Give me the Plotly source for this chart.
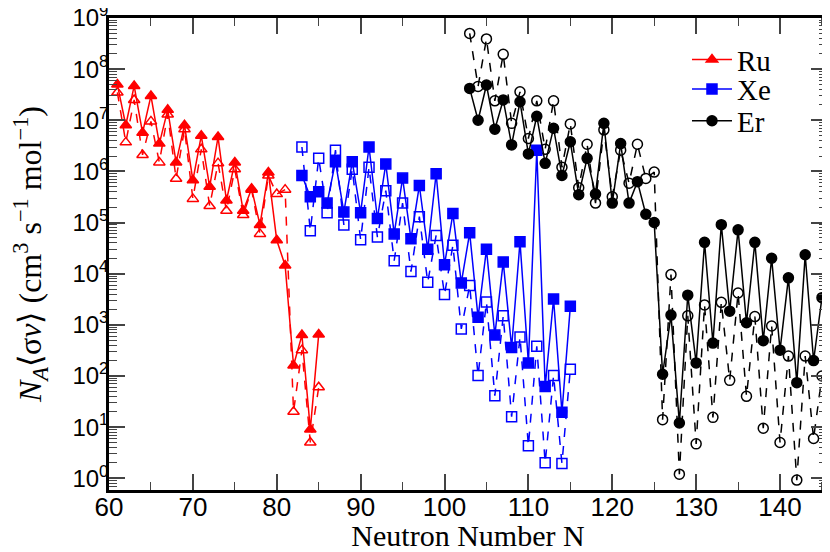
import plotly.graph_objects as go

# ---- data ----
ru_n = list(range(61, 86))
ru_solid = [5e7, 8e6, 4.7e7, 5.7e6, 3e7, 3.5e6, 1.6e7, 1.5e6, 8e6, 6.7e5, 5e6, 5e5, 4.7e6, 2.7e5,
            1.5e6, 1.7e5, 4.6e5, 9e4, 9.5e5, 4.5e4, 1.45e4, 160, 630, 9, 650]
ru_dash = [3.5e7, 3.7e6, 2.5e7, 2.1e6, 9.5e6, 1.5e6, 1.3e7, 7.2e5, 6.7e6, 2.9e5, 2.7e6, 2.1e5, 1.45e6, 1.7e5,
           1.1e6, 1.4e5, 4.4e5, 6e4, 8.3e5, 3.6e5, 4.4e5, 20, 320, 5, 60]

xe_n = list(range(83, 116))
xe_solid = [8.3e5, 3.2e5, 4e5, 2.4e5, 1.55e6, 1.6e5, 1.55e6, 1.56e5, 3e6, 1.2e5, 1.4e6, 6e4, 7.4e5, 4.8e4,
            5.3e5, 3e4, 9e5, 1.5e4, 1.5e5, 6.6e3, 6.3e4, 1.4e3, 3e4, 630, 1.7e4, 360, 4.2e4, 180,
            2.6e6, 62, 3.2e3, 19.5, 2.3e3]
xe_dash = [3e6, 6.9e4, 1.8e6, 1.55e5, 2.6e6, 9e4, 1.1e6, 4.6e4, 1.2e6, 5.2e4, 4.2e5, 1.8e4, 2.4e5, 1.1e4,
           1.3e5, 6.8e3, 5.6e4, 3.9e3, 3.6e4, 830, 5.9e3, 102, 2.8e3, 41, 1.5e3, 16, 580, 4.3,
           380, 2, 102, 1.95, 135]

er_n = list(range(103, 146))
er_solid = [4.2e7, 1e7, 4.9e7, 6.7e6, 2.5e7, 3.3e6, 2.3e7, 2.2e6, 1.2e7, 1.44e6, 7e6, 8.3e5, 3.8e6, 3.5e5,
            1.8e6, 3.6e5, 8.7e6, 2.4e5, 3.5e6, 2.4e5, 6.3e5, 1.45e5, 1e5, 108, 1.55e3, 12, 3.8e3, 180,
            4.1e4, 440, 9.1e4, 1.85e3, 7.2e4, 1.1e3, 4.1e4, 490, 2e4, 320, 8.3e3, 74, 2.35e4, 200, 3.4e3]
er_dash = [5e8, 4.6e7, 3.9e8, 2.4e7, 1.95e8, 8.7e6, 3.6e7, 4.4e6, 2.4e7, 2.7e6, 2.4e7, 1.2e6, 8.5e6, 4.8e5,
           3.4e6, 2.4e5, 6.5e6, 3.2e5, 2.6e6, 5.9e5, 3.4e6, 7.3e5, 9.7e5, 14, 9.6e3, 1.2, 1.5e3, 4.7,
           2.45e3, 15.5, 2.75e3, 82, 4.2e3, 40, 1.45e3, 9.5, 950, 5, 245, 0.92, 245, 6, 100]

x_ticks = [60, 70, 80, 90, 100, 110, 120, 130, 140]
y_exponents = list(range(0, 10))
y_ticks = [10 ** e for e in y_exponents]
y_ticktext = ["10<sup>%d</sup>" % e for e in y_exponents]
y_minor = [m * 10 ** e for e in range(-1, 9) for m in range(2, 10)]

fig = go.Figure()

def add(n, vals, color, symbol, dash, name, legend, legend_id="legend"):
    fig.add_trace(go.Scatter(
        x=n, y=vals, mode="lines+markers", name=name, showlegend=legend, legend=legend_id,
        line=dict(color=color, width=1.5, dash=dash),
        marker=dict(symbol=symbol, size=10, color=color,
                    line=dict(color=color, width=1.5)),
    ))

add(ru_n, ru_dash, "#ff0000", "triangle-up-open", "dash", "Ru", False)
add(xe_n, xe_dash, "#0000ff", "square-open", "dash", "Xe", False)
add(er_n, er_dash, "#000000", "circle-open", "dash", "Er", False)
add(ru_n, ru_solid, "#ff0000", "triangle-up", "solid", "Ru", True, "legend")
add(xe_n, xe_solid, "#0000ff", "square", "solid", "Xe", True, "legend2")
add(er_n, er_solid, "#000000", "circle", "solid", "Er", True, "legend3")

leg_font = dict(family="Liberation Serif", size=29, color="black")

def leg(y):
    return dict(x=0.805, y=y, xanchor="left", yanchor="middle",
                bgcolor="rgba(0,0,0,0)", font=leg_font, itemwidth=40)

# page is shown with the browser's 8px body margin, so the figure is 8px smaller
fig.update_layout(
    width=822, height=544,
    margin=dict(l=101, r=3, t=10, b=62, autoexpand=False),
    plot_bgcolor="white", paper_bgcolor="white",
    showlegend=True,
    legend=leg(0.912), legend2=leg(0.849), legend3=leg(0.782),
    font=dict(family="Liberation Sans", color="black"),
)

fig.update_xaxes(
    range=[60, 145.6], tickmode="array", tickvals=x_ticks, ticks="inside", ticklen=16, tickwidth=1.5,
    showline=True, linewidth=2.5, linecolor="black", mirror="allticks", showgrid=False, zeroline=False,
    automargin=False, ticklabelstandoff=-8,
    tickfont=dict(family="Liberation Sans", size=26),
    minor=dict(dtick=5, tick0=60, ticks="inside", ticklen=8, tickwidth=1.2, showgrid=False),
    title=dict(text="Neutron Number N", font=dict(family="Liberation Serif", size=30), standoff=5),
)
fig.update_yaxes(
    type="log", range=[-0.23, 9.0], tickmode="array", tickvals=y_ticks, ticktext=y_ticktext,
    ticks="inside", ticklen=16, tickwidth=1.5, ticklabeloverflow="allow", ticklabelstandoff=-7,
    showline=True, linewidth=2.5, linecolor="black", mirror="allticks", showgrid=False, zeroline=False,
    automargin=False,
    tickfont=dict(family="Liberation Sans", size=24),
    minor=dict(tickmode="array", tickvals=y_minor, ticks="inside", ticklen=8, tickwidth=1, showgrid=False),
    title=dict(text="<i>N</i><sub><i>A</i></sub>⟨σ<i>v</i>⟩ (cm<sup>3</sup> s<sup>−1</sup> mol<sup>−1</sup>)",
               font=dict(family="Liberation Serif", size=32), standoff=36),
)

fig.write_html("out.html")
